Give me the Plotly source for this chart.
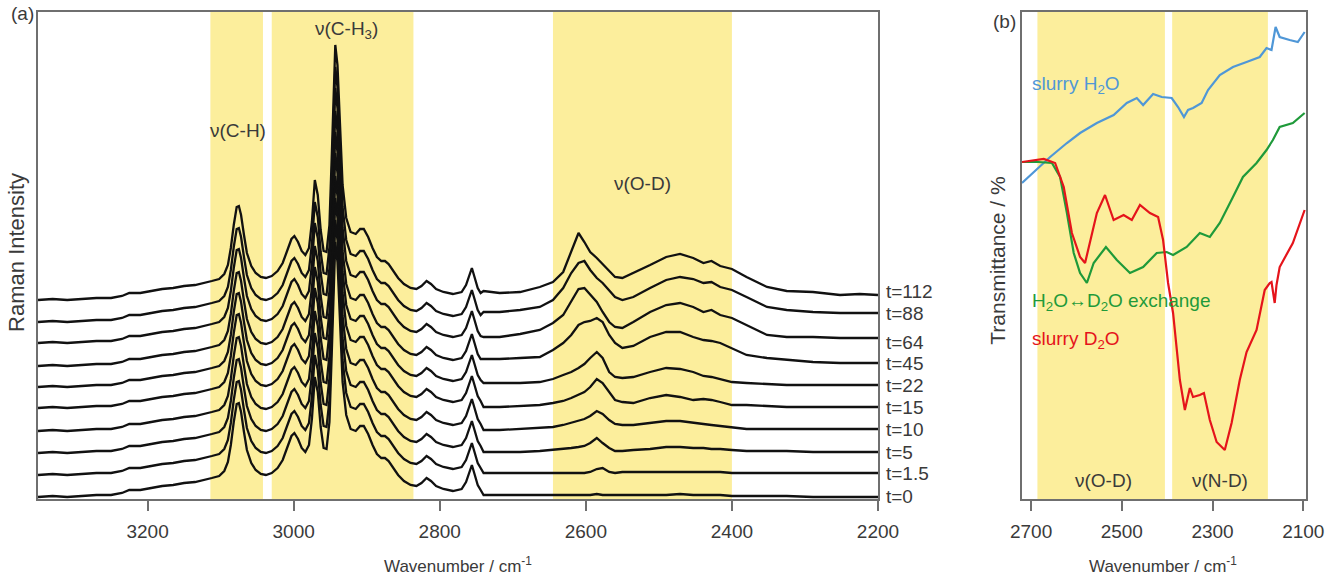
import plotly.graph_objects as go

# ---------------- Panel (a): Raman spectra ----------------
times = ["t=0", "t=1.5", "t=5", "t=10", "t=15", "t=22", "t=45", "t=64", "t=88", "t=112"]
# stacking offset of each spectrum (arbitrary intensity units)
offsets = [2, 24, 46, 68, 91, 112, 133, 156, 177, 199]
# level at which each time label is written
label_levels = [3, 26, 47, 70, 92, 114, 136, 157, 186, 208]

# C-H region, common to all spectra (relative intensity)
wn_ch = [3350, 3330, 3310, 3290, 3270, 3250, 3235, 3225, 3210, 3195, 3180, 3165, 3150, 3135,
         3122, 3112, 3102, 3095, 3090, 3086, 3082, 3078, 3075, 3072, 3068, 3064, 3058, 3052,
         3045, 3038, 3030, 3022, 3015, 3008, 3003, 2999, 2994, 2989, 2984, 2979, 2975, 2971,
         2967, 2963, 2959, 2955, 2951, 2948, 2945, 2943, 2940, 2937, 2933, 2928, 2922, 2915,
         2909, 2904, 2898, 2892, 2886, 2880, 2875, 2870, 2864, 2857, 2849, 2840, 2832, 2825,
         2818, 2812, 2805, 2795, 2782, 2770, 2764, 2759, 2756, 2752, 2748, 2744]
ch_profile = [0, 1, 0, 1, 2, 2, 4, 7, 7, 9, 11, 12, 14, 15,
              17, 19, 21, 26, 35, 52, 75, 93, 94, 85, 65, 47, 34, 27,
              23, 22, 24, 29, 37, 50, 61, 64, 58, 49, 45, 52, 78, 120,
              105, 70, 49, 48, 75, 140, 225, 255, 235, 175, 115, 82, 68, 66,
              71, 71, 63, 52, 43, 39, 39, 36, 29, 22, 16, 12, 11, 14,
              19, 16, 11, 8, 6, 8, 15, 27, 32, 22, 12, 7]

# O-D region, one profile per spectrum (relative intensity)
wn_od = [2740, 2718, 2690, 2663, 2645, 2631, 2620, 2610, 2602, 2594, 2585, 2577, 2568, 2560,
         2550, 2535, 2512, 2490, 2471, 2453, 2439, 2428, 2416, 2400, 2380, 2352, 2325, 2289,
         2252, 2225, 2200]
od_t0 = [2, 2, 2, 2, 2, 2, 2, 2, 2, 2, 3, 2, 2, 2, 2, 2, 2, 2, 3, 2, 2, 2, 2, 1, 1, 1, 1, 0, 0, 0, 0]
od_t1_5 = [2, 2, 2, 2, 2, 2, 2, 2, 2, 3, 6, 7, 3, 2, 3, 3, 3, 3, 3, 3, 3, 3, 3, 2, 2, 2, 2, 2, 2, 2, 2]
od_t5 = [1, 1, 1, 2, 3, 4, 5, 6, 7, 10, 15, 10, 5, 2, 2, 3, 4, 6, 6, 5, 5, 4, 4, 3, 2, 2, 2, 1, 1, 1, 1]
od_t10 = [1, 1, 2, 3, 4, 6, 8, 10, 12, 15, 20, 17, 11, 7, 6, 6, 8, 10, 10, 8, 7, 6, 5, 3, 2, 2, 2, 2, 2, 2, 2]
od_t15 = [1, 1, 2, 3, 5, 7, 10, 13, 16, 21, 29, 25, 16, 8, 6, 5, 10, 13, 11, 8, 9, 8, 6, 3, 3, 2, 1, 1, 1, 1, 1]
od_t22 = [4, 4, 4, 5, 8, 12, 15, 19, 23, 29, 35, 29, 15, 10, 9, 10, 15, 19, 18, 15, 11, 10, 8, 5, 4, 3, 2, 2, 2, 2, 2]
od_t45 = [7, 7, 8, 9, 16, 23, 31, 41, 44, 45, 48, 44, 31, 23, 18, 20, 29, 34, 34, 29, 26, 25, 23, 18, 11, 8, 6, 4, 3, 3, 3]
od_t64 = [6, 6, 9, 13, 20, 28, 41, 54, 55, 48, 41, 31, 21, 16, 15, 21, 31, 38, 40, 36, 31, 33, 28, 25, 18, 8, 6, 6, 5, 5, 5]
od_t88 = [10, 10, 12, 15, 22, 34, 49, 59, 61, 52, 44, 39, 32, 25, 22, 25, 34, 42, 45, 43, 39, 40, 35, 32, 25, 15, 12, 10, 9, 9, 9]
od_t112 = [9, 7, 8, 13, 18, 28, 48, 67, 58, 48, 42, 36, 29, 23, 22, 27, 35, 43, 46, 42, 37, 39, 34, 31, 23, 13, 9, 8, 5, 6, 5]
od_profiles = [od_t0, od_t1_5, od_t5, od_t10, od_t15, od_t22, od_t45, od_t64, od_t88, od_t112]

bands_a = [(3114, 3042), (3030, 2836), (2645, 2400)]
band_labels_a = [("ν(C-H)", 3076, 369), ("ν(C-H<sub>3</sub>)", 2927, 469), ("ν(O-D)", 2522, 316)]

# ---------------- Panel (b): IR transmittance ----------------
wn_h2o = [2720, 2684, 2658, 2621, 2592, 2555, 2518, 2489, 2467, 2453, 2431, 2412, 2390, 2376,
          2363, 2354, 2343, 2324, 2310, 2284, 2255, 2225, 2196, 2181, 2170, 2161, 2152, 2130,
          2112, 2097]
tr_h2o = [316, 331, 342, 356, 366, 376, 384, 396, 401, 394, 405, 402, 401, 392,
          382, 389, 391, 396, 409, 424, 432, 437, 442, 451, 449, 472, 462, 459,
          457, 467]

wn_ex = [2720, 2684, 2654, 2636, 2621, 2606, 2592, 2577, 2562, 2535, 2511, 2482, 2453, 2423,
         2401, 2387, 2357, 2328, 2306, 2284, 2255, 2233, 2203, 2181, 2167, 2152, 2123, 2097]
tr_ex = [337, 337, 336, 322, 286, 246, 226, 216, 236, 252, 239, 226, 232, 246,
         247, 244, 252, 266, 262, 276, 302, 322, 336, 349, 359, 372, 376, 386]

wn_d2o = [2720, 2672, 2647, 2628, 2610, 2592, 2581, 2566, 2555, 2537, 2518, 2496, 2478, 2460,
          2438, 2420, 2409, 2398, 2387, 2372, 2361, 2350, 2343, 2328, 2319, 2306, 2291, 2273,
          2258, 2240, 2225, 2203, 2185, 2174, 2170, 2163, 2159, 2152, 2123, 2097]
tr_d2o = [337, 340, 336, 312, 266, 242, 236, 266, 286, 304, 279, 284, 279, 294,
          286, 282, 259, 216, 186, 119, 89, 111, 102, 104, 106, 79, 57, 49,
          76, 119, 147, 169, 209, 216, 217, 196, 214, 232, 256, 289]

bands_b = [(2686, 2405), (2389, 2178)]
band_labels_b = [("ν(O-D)", 2541, 19), ("ν(N-D)", 2284, 19)]

# ---------------- Figure ----------------
FONT = "Arial, Liberation Sans, Helvetica, sans-serif"
TXT = "#3a3a3a"
AX = "#6f6f6f"
YELLOW = "#FCEE9C"
BLUE, GREEN, RED = "#4F97D7", "#1F9A3A", "#E5141B"

fig = go.Figure()
ann = []

wn_all = wn_ch + wn_od
for name, off, od, lv in zip(times, offsets, od_profiles, label_levels):
    vals = [off + v for v in ch_profile + od]
    fig.add_trace(go.Scatter(x=wn_all, y=vals, mode="lines", name=name,
                             line=dict(color="#111111", width=2.3), xaxis="x", yaxis="y",
                             showlegend=False))
    ann.append(dict(x=0.6655, xref="paper", y=lv, yref="y", text=name,
                    showarrow=False, xanchor="left", yanchor="middle",
                    font=dict(family=FONT, size=19, color=TXT)))

fig.add_trace(go.Scatter(x=wn_h2o, y=tr_h2o, mode="lines", line=dict(color=BLUE, width=2.2),
                         xaxis="x2", yaxis="y2", showlegend=False, name="slurry H2O"))
fig.add_trace(go.Scatter(x=wn_ex, y=tr_ex, mode="lines", line=dict(color=GREEN, width=2.2),
                         xaxis="x2", yaxis="y2", showlegend=False, name="exchange"))
fig.add_trace(go.Scatter(x=wn_d2o, y=tr_d2o, mode="lines", line=dict(color=RED, width=2.2),
                         xaxis="x2", yaxis="y2", showlegend=False, name="slurry D2O"))

shapes = []
for a, b in bands_a:
    shapes.append(dict(type="rect", xref="x", yref="y domain", x0=a, x1=b, y0=0, y1=1,
                       fillcolor=YELLOW, line=dict(width=0), layer="below"))
for a, b in bands_b:
    shapes.append(dict(type="rect", xref="x2", yref="y2 domain", x0=a, x1=b, y0=0, y1=1,
                       fillcolor=YELLOW, line=dict(width=0), layer="below"))

for t, x, y in band_labels_a:
    ann.append(dict(x=x, y=y, xref="x", yref="y", text=t, showarrow=False, xanchor="center",
                    font=dict(family=FONT, size=19, color=TXT)))
for t, x, y in band_labels_b:
    ann.append(dict(x=x, y=y, xref="x2", yref="y2", text=t, showarrow=False, xanchor="center",
                    font=dict(family=FONT, size=19, color=TXT)))
ann += [
    dict(x=2702, y=414, xref="x2", yref="y2", text="slurry H<sub>2</sub>O", showarrow=False,
         xanchor="left", font=dict(family=FONT, size=19, color=BLUE)),
    dict(x=2702, y=197, xref="x2", yref="y2", text="H<sub>2</sub>O↔D<sub>2</sub>O exchange",
         showarrow=False, xanchor="left", font=dict(family=FONT, size=19, color=GREEN)),
    dict(x=2702, y=159, xref="x2", yref="y2", text="slurry D<sub>2</sub>O", showarrow=False,
         xanchor="left", font=dict(family=FONT, size=19, color=RED)),
    dict(x=0.0166, y=0.976, xref="paper", yref="paper", text="(a)", showarrow=False,
         xanchor="center", yanchor="middle", font=dict(family=FONT, size=19, color=TXT)),
    dict(x=0.7562, y=0.962, xref="paper", yref="paper", text="(b)", showarrow=False,
         xanchor="center", yanchor="middle", font=dict(family=FONT, size=19, color=TXT)),
    dict(x=0.3446, y=0.019, xref="paper", yref="paper", text="Wavenumber / cm<sup>-1</sup>",
         showarrow=False, xanchor="center", yanchor="middle",
         font=dict(family=FONT, size=17, color=TXT)),
    dict(x=0.875, y=0.019, xref="paper", yref="paper", text="Wavenumber / cm<sup>-1</sup>",
         showarrow=False, xanchor="center", yanchor="middle",
         font=dict(family=FONT, size=17, color=TXT)),
    dict(x=0.0128, y=0.561, xref="paper", yref="paper", text="Raman Intensity", textangle=-90,
         showarrow=False, xanchor="center", yanchor="middle",
         font=dict(family=FONT, size=22, color=TXT)),
    dict(x=0.7505, y=0.548, xref="paper", yref="paper", text="Transmittance / %", textangle=-90,
         showarrow=False, xanchor="center", yanchor="middle",
         font=dict(family=FONT, size=21, color=TXT)),
]

axis_common = dict(showline=True, mirror=True, linecolor=AX, linewidth=1.5, showgrid=False,
                   zeroline=False, automargin=False)

fig.update_layout(
    width=1329, height=576, autosize=False,
    margin=dict(l=0, r=0, t=0, b=0, pad=0, autoexpand=False),
    paper_bgcolor="white", plot_bgcolor="white",
    shapes=shapes, annotations=ann,
    xaxis=dict(domain=[38 / 1329, 878 / 1329], range=[3350, 2200], anchor="y",
               tickvals=[3200, 3000, 2800, 2600, 2400, 2200], ticks="outside", ticklen=10,
               tickcolor=AX, tickwidth=1.5, ticklabelstandoff=4,
               tickfont=dict(family=FONT, size=19, color=TXT), **axis_common),
    yaxis=dict(domain=[1 - 499 / 576, 1 - 12 / 576], range=[0, 487], anchor="x",
               showticklabels=False, ticks="", **axis_common),
    xaxis2=dict(domain=[1022 / 1329, 1306 / 1329], range=[2720, 2094], anchor="y2",
                tickvals=[2700, 2500, 2300, 2100], ticks="outside", ticklen=10,
                tickcolor=AX, tickwidth=1.5, ticklabelstandoff=4,
                tickfont=dict(family=FONT, size=19, color=TXT), **axis_common),
    yaxis2=dict(domain=[1 - 499 / 576, 1 - 12 / 576], range=[0, 487], anchor="x2",
                showticklabels=False, ticks="", **axis_common),
)

fig.write_html("out.html", config={"responsive": False},
               post_script="document.body.style.margin='0';document.body.style.padding='0';"
                           "document.body.style.overflow='hidden';")
